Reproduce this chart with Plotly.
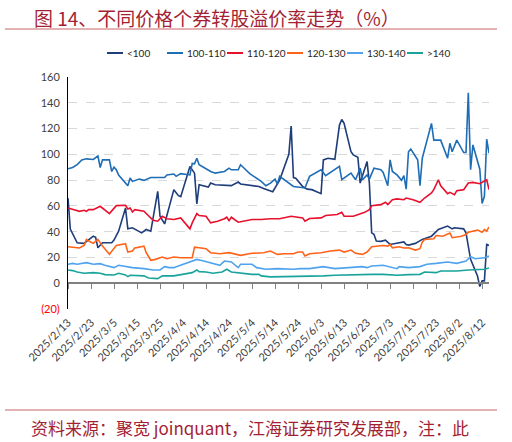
import pandas as pd
import plotly.graph_objects as go

# 各价格区间个券转股溢价率（%），日期为 2025 年
names = ["<100", "100-110", "110-120", "120-130", "130-140", ">140"]
colors = ["#1F3D7A", "#1F6DB5", "#E8112D", "#FF6319", "#4FA3EE", "#19A39B"]

d_lt100 = ["2/13", "2/14", "2/17", "2/20", "2/24", "2/25", "2/26", "2/28",
           "3/4", "3/5", "3/7", "3/10", "3/11", "3/13", "3/17", "3/19", "3/21", "3/24", "3/25", "3/27", "3/31",
           "4/2", "4/3", "4/7", "4/9", "4/10", "4/11", "4/15", "4/16", "4/18", "4/25", "4/28", "4/29",
           "5/4", "5/7", "5/9", "5/12", "5/13", "5/16", "5/19", "5/20", "5/21", "5/22", "5/23", "5/26", "5/28", "5/30",
           "6/3", "6/4", "6/6", "6/9", "6/11", "6/12", "6/13", "6/16", "6/17", "6/19", "6/20", "6/23", "6/24", "6/25",
           "6/26", "6/27", "6/29",
           "7/1", "7/3", "7/7", "7/9", "7/10", "7/11", "7/14", "7/17", "7/21", "7/24", "7/28", "7/30", "7/31",
           "8/4", "8/5", "8/7", "8/10", "8/11", "8/12", "8/13", "8/14", "8/15"]
v_lt100 = [66, 42, 31.4, 30.9, 36.5, 35.7, 27.5, 31.4,
           31.4, 33.5, 40.4, 58.4, 42.2, 43, 39.1, 41.7, 40.4, 71.3, 52, 46, 72.6,
           67.9, 67.2, 90.6, 85.4, 61.5, 76.4, 74.6, 77.7, 76.4, 75.7, 78.5, 77,
           76, 75, 73.5, 72, 71, 80, 94, 100, 122, 82, 81.5, 75, 73, 72.6,
           69.5, 95.7, 97, 96.2, 122.7, 127, 124, 102, 99.6, 97.8, 77.7, 94.4, 77.7, 39.1,
           38, 32.7, 32.5,
           33.4, 30.1, 31.4, 32, 30, 29.6, 30.9, 34, 36.5, 41.7, 44.3, 42.2, 43,
           42.2, 39.1, 18.5, 5.6, -2.6, 1.8, 1.8, 30.1, 29.3]

d_100_110 = ["2/13", "2/15", "2/17", "2/19", "2/21", "2/24", "2/26", "2/27", "2/28",
             "3/3", "3/4", "3/5", "3/6", "3/7", "3/11", "3/12", "3/13", "3/16", "3/18", "3/21", "3/27", "3/28", "3/31",
             "4/1", "4/3", "4/7", "4/8", "4/9", "4/10", "4/11", "4/14", "4/16", "4/18", "4/22", "4/24", "4/25", "4/28",
             "4/29",
             "5/3", "5/8", "5/10", "5/12", "5/14", "5/15", "5/16", "5/22", "5/27", "5/29",
             "6/3", "6/5", "6/11", "6/12", "6/16", "6/18", "6/20", "6/21", "6/23", "6/24", "6/26", "6/29", "6/30",
             "7/2", "7/3", "7/4", "7/6", "7/8", "7/9", "7/10", "7/11", "7/12", "7/15", "7/16", "7/17", "7/21", "7/22",
             "7/25", "7/28", "7/29", "7/30",
             "8/1", "8/4", "8/5", "8/6", "8/7", "8/8", "8/11", "8/12", "8/13", "8/14", "8/15"]
v_100_110 = [88.8, 89.8, 92, 95.7, 96.5, 96, 98.8, 89.8, 95.7,
             95.7, 86.7, 90, 88, 84, 75.6, 81.6, 79, 80.8, 79.8, 82, 82, 84, 84.7,
             82.9, 85, 84, 93, 92.6, 97, 91.9, 88.8, 86.7, 85.4, 86.7, 89.3, 88, 88, 91.9,
             85, 79, 75.6, 77.7, 80.8, 77, 82.9, 75.1, 73.9, 82.9,
             88, 83.4, 90.6, 80.3, 85.4, 80.3, 89.3, 80.3, 84.1, 80.8, 89.3, 88, 86,
             75.7, 95.7, 86.7, 84, 79.8, 83.4, 73, 102, 104, 95.7, 75.7, 97, 124, 111, 111, 97, 108.6, 102,
             111, 101.4, 101.4, 147.7, 88, 107.3, 88.5, 61.8, 67.4, 111.7, 100.9]

d_110_120 = ["2/13", "2/16", "2/18", "2/20", "2/21", "2/22", "2/24", "2/27",
             "3/1", "3/3", "3/6", "3/10", "3/11", "3/12", "3/13", "3/14", "3/18", "3/20", "3/22", "3/24", "3/26",
             "3/28", "3/31",
             "4/3", "4/7", "4/8", "4/10", "4/11", "4/14", "4/16", "4/19", "4/22", "4/23", "4/24", "4/25", "4/28",
             "5/1", "5/4", "5/8", "5/12", "5/16", "5/21", "5/26", "5/27", "5/29",
             "6/3", "6/5", "6/10", "6/12", "6/13", "6/17", "6/19", "6/22", "6/24", "6/25", "6/29",
             "7/1", "7/2", "7/4", "7/6", "7/9", "7/10", "7/13", "7/16", "7/18", "7/21", "7/22", "7/24", "7/25",
             "7/28", "7/29", "7/31",
             "8/1", "8/4", "8/6", "8/8", "8/11", "8/14", "8/15"]
v_110_120 = [58.4, 57.1, 55.8, 56.6, 55.8, 57.1, 57.1, 59.7,
             57.1, 54, 60.2, 60.5, 57.6, 58.4, 55.3, 57.1, 55.8, 52, 48.9, 48.1, 52, 50, 49.4,
             50.7, 42.2, 46.8, 54, 52.5, 52, 46.8, 48.1, 50, 51.2, 48.6, 51.2, 47.3,
             48.1, 49.4, 49.4, 50, 50, 52, 50.7, 48.1, 50.2,
             50.7, 52.5, 53.3, 55, 52, 52, 53.3, 55, 57.1, 60.2, 61,
             62.8, 61, 64.8, 65.4, 64.8, 66.1, 64.8, 62.8, 66.1, 70, 72.6, 80.3, 75.6, 69.5, 70.5, 68.7,
             71.8, 72.6, 77.7, 78.2, 77.2, 80.3, 72.6]

d_120_130 = ["2/13", "2/16", "2/18", "2/20", "2/21", "2/22", "2/24", "2/26", "2/27", "2/28",
             "3/3", "3/6", "3/10", "3/11", "3/13", "3/14", "3/18", "3/19", "3/21", "3/23", "3/26", "3/28", "3/31",
             "4/3", "4/8", "4/9", "4/11", "4/14", "4/16", "4/20", "4/24", "4/29",
             "5/4", "5/9", "5/12", "5/15", "5/18", "5/22", "5/24", "5/26", "5/27", "5/29",
             "6/3", "6/7", "6/11", "6/13", "6/16", "6/18", "6/21", "6/23", "6/25", "6/30",
             "7/2", "7/3", "7/4", "7/7", "7/9", "7/11", "7/14", "7/16", "7/17", "7/18", "7/22", "7/23", "7/26",
             "7/29", "7/30",
             "8/3", "8/5", "8/6", "8/10", "8/12", "8/13", "8/14", "8/15"]
v_120_130 = [28.3, 27.5, 27.3, 29.3, 34, 32.7, 30.9, 34, 31.4, 28.8,
             22.4, 29.3, 30.6, 24.2, 25, 27.3, 28.8, 23.7, 17.8, 18.5, 20.3, 19, 20.3,
             19.8, 19.8, 28, 27.5, 26.8, 23.7, 22.9, 23.7, 21.6,
             23.2, 23.7, 25, 22.4, 22.9, 22.9, 24.2, 24.2, 21.1, 22.9,
             23.7, 25, 25.7, 24.2, 25.7, 23.2, 22.4, 24.2, 28.3, 29.3,
             28.8, 30.1, 27.5, 28.3, 27.3, 27.5, 25.7, 26.8, 31.9, 34, 34.5, 37, 36.5, 39, 35.3,
             36.5, 37.8, 39.6, 41.2, 39.6, 41.7, 40.4, 43.7]

d_130_140 = ["2/13", "2/15", "2/17", "2/19", "2/21", "2/24", "2/27",
             "3/1", "3/5", "3/7", "3/10", "3/13", "3/18", "3/22", "3/25", "3/27", "3/29", "3/31",
             "4/2", "4/5", "4/7", "4/10", "4/13", "4/16", "4/20", "4/22", "4/25", "4/28", "4/29",
             "5/4", "5/6", "5/10", "5/15", "5/22", "5/25", "5/29",
             "6/4", "6/9", "6/14", "6/17", "6/21", "6/23", "6/25", "6/30",
             "7/6", "7/7", "7/11", "7/16", "7/19", "7/23", "7/28",
             "8/1", "8/5", "8/7", "8/9", "8/13", "8/15"]
v_130_140 = [14.7, 15.4, 14.7, 15.4, 16, 14.7, 15.2,
             13.9, 12.1, 13.9, 12.9, 12.1, 11.3, 10.3, 10.3, 12.9, 12.1, 12.1,
             13.4, 15.4, 16.5, 18.5, 17.2, 16, 13.9, 17.2, 16.5, 12.1, 14.7,
             14.7, 12.1, 10.8, 11.3, 10.8, 11.3, 11.3,
             12.9, 11.3, 12.1, 12.1, 12.9, 12.1, 13.4, 13.9,
             11.3, 12.9, 12.1, 12.9, 14.7, 15.4, 16.5,
             15.4, 17.2, 20.6, 19, 19.8, 21.1]

d_gt140 = ["2/13", "2/15", "2/17", "2/20", "2/24", "2/27",
           "3/1", "3/5", "3/7", "3/10", "3/11", "3/12", "3/18", "3/20", "3/24", "3/26", "3/31",
           "4/4", "4/8", "4/10", "4/11", "4/14", "4/17", "4/21", "4/23", "4/25", "4/30",
           "5/4", "5/7", "5/8", "5/12", "5/18", "5/25", "5/28",
           "6/4", "6/9", "6/16", "6/21", "6/25", "6/30",
           "7/6", "7/11", "7/16", "7/18", "7/23", "7/25",
           "8/1", "8/6", "8/13", "8/15"]
v_gt140 = [10.3, 9.8, 8.7, 7.7, 8.2, 7.7,
           6.7, 6.4, 7.7, 6.4, 5.1, 6.2, 5.7, 4.1, 3.6, 5.7, 5.7,
           6.9, 8.2, 10.3, 9, 8.7, 7.7, 8.7, 10.8, 8.7, 7.7,
           6.9, 6.9, 5.7, 4.9, 5.1, 5.1, 5.7,
           5.7, 6.2, 6.7, 6.9, 6.9, 6.9,
           6.2, 6.7, 6.9, 8.7, 8.2, 9.5,
           9.5, 10.3, 10.8, 11.8]

y_ticks = [-20, 0, 20, 40, 60, 80, 100, 120, 140, 160]
y_labels = ["<span style='color:#FF0000'>(20)</span>", "0", "20", "40", "60", "80",
            "100", "120", "140", "160"]

series = [(d_lt100, v_lt100), (d_100_110, v_100_110), (d_110_120, v_110_120),
          (d_120_130, v_120_130), (d_130_140, v_130_140), (d_gt140, v_gt140)]

x_range = ["2025-02-13", "2025-08-15"]
ten_days = 10 * 24 * 3600 * 1000

fig = go.Figure()
for name, color, (d, v) in zip(names, colors, series):
    fig.add_trace(go.Scatter(x=pd.to_datetime(["2025/" + s for s in d], format="%Y/%m/%d"), y=v,
                             mode="lines", name=name, showlegend=False,
                             line=dict(color=color, width=1.6)))

# 零轴上的刻度线（第二条 x 轴）
fig.add_trace(go.Scatter(x=[], y=[], xaxis="x2", showlegend=False, hoverinfo="skip"))

font_num = dict(family="Lato, Open Sans, sans-serif", size=11, color="#404040")

fig.update_layout(
    width=512, height=442,
    margin=dict(l=68, r=23, t=77, b=133),
    paper_bgcolor="white", plot_bgcolor="white",
    xaxis=dict(type="date", range=x_range, tick0=x_range[0], dtick=ten_days,
               tickformat="%Y/%-m/%-d", tickangle=-45, tickfont=font_num,
               showgrid=False, showline=False, zeroline=False, ticks="",
               ticklabelstandoff=4),
    xaxis2=dict(type="date", range=x_range, tick0=x_range[0], dtick=ten_days,
                overlaying="x", anchor="free", position=20 / 180,
                showticklabels=False, ticks="outside", ticklen=5, tickwidth=1,
                tickcolor="#808080", showline=True, linecolor="#808080", linewidth=2,
                showgrid=False, zeroline=False),
    yaxis=dict(range=[-20, 160], tickvals=y_ticks, ticktext=y_labels, tickfont=font_num,
               showgrid=True, gridcolor="#D9D9D9", griddash="dash", gridwidth=1,
               showline=True, linecolor="black", linewidth=1, zeroline=False,
               ticks="", ticklabelstandoff=5),
)

# 手工图例
plot_w = 512 - 68 - 23
plot_h = 442 - 77 - 133
leg_y = 1 + (77 - 53) / plot_h
for i, (name, color) in enumerate(zip(names, colors)):
    x0 = (107 + 60 * i - 68) / plot_w
    x1 = (123 + 60 * i - 68) / plot_w
    fig.add_shape(type="line", xref="paper", yref="paper", x0=x0, x1=x1, y0=leg_y, y1=leg_y,
                  line=dict(color=color, width=2))
    fig.add_annotation(xref="paper", yref="paper", x=x1 + 2 / plot_w, y=leg_y, text=name,
                       showarrow=False, xanchor="left", yanchor="middle",
                       font=dict(family="Lato, Open Sans, sans-serif", size=10, color="#262626"))

# 标题与来源
title_color = "#A31F34"
fig.add_annotation(xref="paper", yref="paper", x=(32 - 68) / plot_w, y=1 + (77 - 17) / plot_h,
                   text="图 14、不同价格个券转股溢价率走势（%）", showarrow=False,
                   xanchor="left", yanchor="middle",
                   font=dict(family="Noto Sans CJK SC", size=19, color=title_color))
fig.add_annotation(xref="paper", yref="paper", x=(29 - 68) / plot_w, y=(309 - 427) / plot_h,
                   text="资料来源：聚宽 joinquant，江海证券研究发展部，注：此", showarrow=False,
                   xanchor="left", yanchor="middle",
                   font=dict(family="Noto Sans CJK SC", size=17, color=title_color))
for py in (29, 410):
    yy = (309 - py) / plot_h
    fig.add_shape(type="line", xref="paper", yref="paper",
                  x0=(5 - 68) / plot_w, x1=(497 - 68) / plot_w, y0=yy, y1=yy,
                  line=dict(color="#C86464", width=1))

fig.write_html("out.html", config={"displayModeBar": False},
               post_script="document.body.style.margin='0';")
